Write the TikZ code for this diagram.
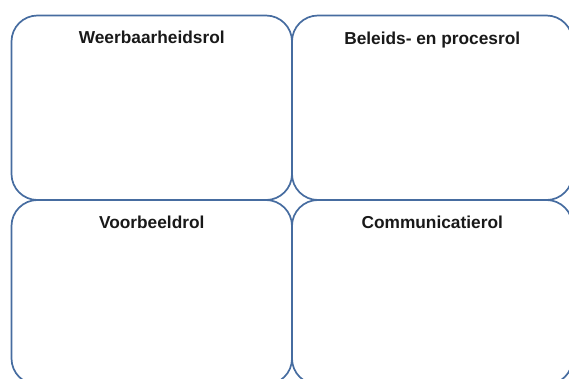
\documentclass[tikz,border=0pt]{standalone}
\usepackage{fontspec}
\setmainfont{Liberation Sans}
\definecolor{boxblue}{RGB}{70,108,160}
\tikzset{
  rolebox/.style={draw=boxblue, line width=1.7pt, rounded corners=26pt, rectangle,
    minimum width=280.5pt, minimum height=184.5pt, inner sep=0pt, outer sep=0pt, anchor=north west},
  roletitle/.style={font=\fontsize{17.3}{20}\selectfont\bfseries, text=black!90, anchor=base, inner sep=0pt}
}
\begin{document}
\begin{tikzpicture}[x=1pt,y=-1pt]
\useasboundingbox (0,0) rectangle (569,378);
\clip (0,0) rectangle (569,378);
\node[rolebox] (tl) at (11.5,15.5) {};
\node[rolebox] (tr) at (292,15.5) {};
\node[rolebox] (bl) at (11.5,200) {};
\node[rolebox] (br) at (292,200) {};
\node[roletitle] (tlt) at ([yshift=-28pt]tl.north) {Weerbaarheidsrol};
\node[roletitle] (trt) at ([yshift=-28.5pt]tr.north) {Beleids- en procesrol};
\node[roletitle] (blt) at ([yshift=-28pt]bl.north) {Voorbeeldrol};
\node[roletitle] (brt) at ([yshift=-28pt]br.north) {Communicatierol};
\end{tikzpicture}
\end{document}
